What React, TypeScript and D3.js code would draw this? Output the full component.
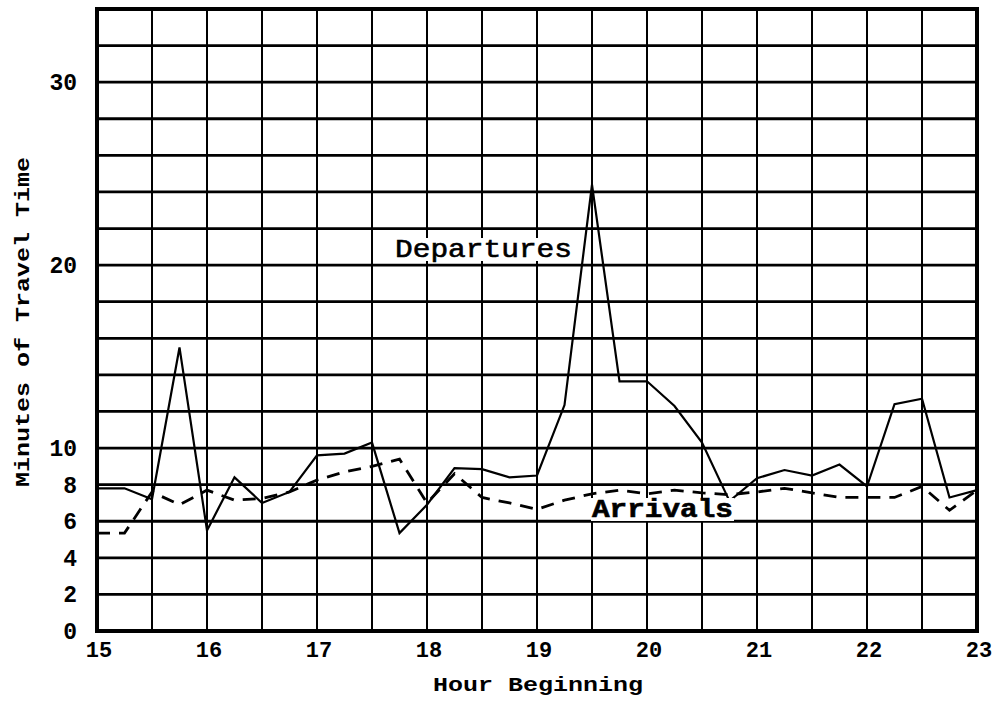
import React, { useEffect, useRef } from 'react';
import * as d3 from 'd3';

// quarter-hour points, hour beginning
const times = [
  15, 15.25, 15.5, 15.75, 16, 16.25, 16.5, 16.75, 17, 17.25, 17.5, 17.75,
  18, 18.25, 18.5, 18.75, 19, 19.25, 19.5, 19.75, 20, 20.25, 20.5, 20.75,
  21, 21.25, 21.5, 21.75, 22, 22.25, 22.5, 22.75, 23,
];

const departures = [
  7.8, 7.8, 7.2, 15.5, 5.5, 8.4, 7.0, 7.6, 9.6, 9.7, 10.3, 5.35,
  6.9, 8.9, 8.85, 8.4, 8.5, 12.35, 24.4, 13.65, 13.65, 12.3, 10.3, 7.1,
  8.35, 8.8, 8.5, 9.1, 7.9, 12.4, 12.7, 7.3, 7.7,
];

const arrivals = [
  5.35, 5.35, 7.6, 6.9, 7.7, 7.15, 7.25, 7.6, 8.25, 8.7, 9.0, 9.4,
  7.0, 8.6, 7.3, 7.0, 6.65, 7.15, 7.5, 7.7, 7.5, 7.7, 7.55, 7.45,
  7.6, 7.8, 7.55, 7.3, 7.3, 7.3, 7.9, 6.6, 7.7,
];

const xTicks = [15, 16, 17, 18, 19, 20, 21, 22, 23];
const yTicks = [0, 2, 4, 6, 8, 10, 20, 30];

const FONT = '"Liberation Mono", "DejaVu Sans Mono", monospace';

export default function App() {
  const svgRef = useRef<SVGSVGElement>(null);

  useEffect(() => {
    if (!svgRef.current) return;
    const svg = d3.select(svgRef.current);
    svg.selectAll('*').remove();

    const x = d3.scaleLinear().domain([15, 23]).range([97, 977]);
    const y = d3.scaleLinear().domain([0, 34]).range([631, 9]);

    // grid: every half hour, every 2 minutes
    const grid = svg.append('g');
    grid.selectAll('line.v')
      .data(d3.range(15, 23.01, 0.5))
      .join('line')
      .attr('class', 'v')
      .attr('x1', d => x(d)).attr('x2', d => x(d))
      .attr('y1', y(0)).attr('y2', y(34))
      .attr('stroke', '#000')
      .attr('stroke-width', 2);
    grid.selectAll('line.h')
      .data(d3.range(0, 34.01, 2))
      .join('line')
      .attr('class', 'h')
      .attr('x1', x(15)).attr('x2', x(23))
      .attr('y1', d => y(d)).attr('y2', d => y(d))
      .attr('stroke', '#000')
      .attr('stroke-width', 2.8);

    // frame
    svg.append('rect')
      .attr('x', x(15)).attr('y', y(34))
      .attr('width', x(23) - x(15)).attr('height', y(0) - y(34))
      .attr('fill', 'none')
      .attr('stroke', '#000')
      .attr('stroke-width', 4);

    const line = d3.line<number>()
      .x((d, i) => x(times[i]))
      .y(d => y(d));

    svg.append('path')
      .datum(arrivals)
      .attr('d', line)
      .attr('fill', 'none')
      .attr('stroke', '#000')
      .attr('stroke-width', 2.8)
      .attr('stroke-dasharray', '13 9');

    svg.append('path')
      .datum(departures)
      .attr('d', line)
      .attr('fill', 'none')
      .attr('stroke', '#000')
      .attr('stroke-width', 2.2);

    // series labels (white box behind, like typed over the grid)
    const labels = [
      { text: 'Departures', x: 395, y: 257, w: 177, weight: 'normal' },
      { text: 'Arrivals', x: 592, y: 517, w: 141, weight: 'bold' },
    ];
    labels.forEach(l => {
      svg.append('rect')
        .attr('x', l.x - 1).attr('y', l.y - 19)
        .attr('width', l.w + 2).attr('height', 23)
        .attr('fill', '#fff');
      svg.append('text')
        .attr('x', l.x).attr('y', l.y)
        .attr('textLength', l.w)
        .attr('lengthAdjust', 'spacingAndGlyphs')
        .attr('stroke', '#000')
        .attr('stroke-width', 0.6)
        .style('font-family', FONT)
        .style('font-weight', l.weight)
        .style('font-size', '25px')
        .text(l.text);
    });

    // axis labels
    svg.append('g')
      .selectAll('text')
      .data(yTicks)
      .join('text')
      .attr('x', 77)
      .attr('y', d => y(d))
      .attr('dy', '0.35em')
      .attr('text-anchor', 'end')
      .style('font-family', FONT)
      .style('font-weight', 'bold')
      .style('font-size', '23px')
      .text(d => d);

    svg.append('g')
      .selectAll('text')
      .data(xTicks)
      .join('text')
      .attr('x', d => x(d) + 2)
      .attr('y', 657)
      .attr('text-anchor', 'middle')
      .style('font-family', FONT)
      .style('font-weight', 'bold')
      .style('font-size', '22px')
      .text(d => d);

    svg.append('text')
      .attr('x', 433).attr('y', 691)
      .attr('textLength', 210)
      .attr('lengthAdjust', 'spacingAndGlyphs')
      .style('font-family', FONT)
      .style('font-weight', 'bold')
      .style('font-size', '20px')
      .text('Hour Beginning');

    svg.append('text')
      .attr('transform', 'translate(29,322) rotate(-90)')
      .attr('text-anchor', 'middle')
      .attr('textLength', 330)
      .attr('lengthAdjust', 'spacingAndGlyphs')
      .style('font-family', FONT)
      .style('font-weight', 'bold')
      .style('font-size', '20px')
      .text('Minutes of Travel Time');
  }, []);

  return (
    <svg
      ref={svgRef}
      width={993}
      height={709}
      style={{ position: 'absolute', left: 0, top: 0, background: '#fff' }}
    />
  );
}
